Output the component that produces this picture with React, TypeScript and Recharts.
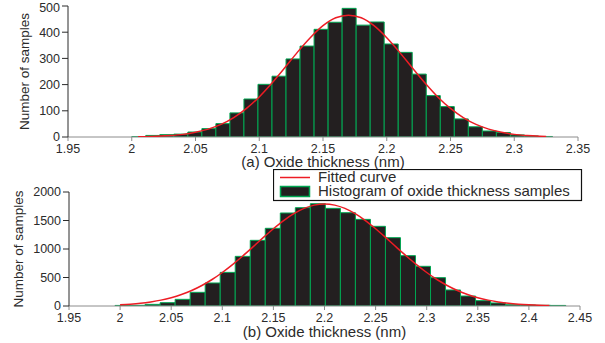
import React from 'react';
import { ComposedChart, LineChart, Bar, Line, XAxis, YAxis } from 'recharts';

// (a) histogram, bin centres (nm) and counts
const TOP_BIN_X = [
  2.0055, 2.0165, 2.0275, 2.0385, 2.0495, 2.0605, 2.0715, 2.0825, 2.0935, 2.1045,
  2.1155, 2.1265, 2.1375, 2.1485, 2.1595, 2.1705, 2.1815, 2.1925, 2.2035, 2.2145,
  2.2255, 2.2365, 2.2475, 2.2585, 2.2695, 2.2805, 2.2915, 2.3025, 2.3135, 2.3245,
];
const TOP_COUNTS = [
  1, 6, 9, 11, 19, 32, 51, 92, 145, 201,
  232, 298, 347, 411, 438, 491, 427, 439, 355, 323,
  240, 158, 116, 69, 39, 23, 17, 8, 4, 2,
];
// (a) fitted curve
const TOP_FIT_X = [
  2.005, 2.01, 2.02, 2.03, 2.04, 2.05, 2.06, 2.07, 2.08, 2.09, 2.1, 2.11, 2.12,
  2.13, 2.14, 2.15, 2.16, 2.17, 2.18, 2.19, 2.2, 2.21, 2.22, 2.23, 2.24, 2.25,
  2.26, 2.27, 2.28, 2.29, 2.3, 2.31, 2.32, 2.325,
];
const TOP_FIT_Y = [
  1, 1.4, 2.9, 5.5, 10, 18, 30, 48, 74, 109, 153, 206, 264,
  324, 379, 425, 455, 465, 455, 425, 379, 324, 264, 206, 153, 109,
  74, 48, 30, 18, 10, 5.5, 2.9, 2.1,
];
const TOP_X_TICKS = [1.95, 2, 2.05, 2.1, 2.15, 2.2, 2.25, 2.3, 2.35];
const TOP_Y_TICKS = [0, 100, 200, 300, 400, 500];

// (b) histogram
const BOT_BIN_X = [
  2.0024, 2.0171, 2.0318, 2.0465, 2.0612, 2.0759, 2.0906, 2.1053, 2.12, 2.1347,
  2.1494, 2.1641, 2.1788, 2.1935, 2.2082, 2.2229, 2.2376, 2.2523, 2.267, 2.2817,
  2.2964, 2.3111, 2.3258, 2.3405, 2.3552, 2.3699, 2.3846, 2.3993, 2.414, 2.4287,
];
const BOT_COUNTS = [
  10, 12, 29, 58, 117, 240, 404, 590, 871, 1152,
  1363, 1632, 1725, 1795, 1713, 1637, 1520, 1398, 1199, 883,
  696, 497, 281, 175, 94, 53, 23, 18, 12, 10,
];
// (b) fitted curve
const BOT_FIT_X = [
  2.0, 2.01, 2.02, 2.03, 2.04, 2.05, 2.06, 2.07, 2.08, 2.09, 2.1, 2.11, 2.12,
  2.13, 2.14, 2.15, 2.16, 2.17, 2.18, 2.19, 2.2, 2.21, 2.22, 2.23, 2.24, 2.25,
  2.26, 2.27, 2.28, 2.29, 2.3, 2.31, 2.32, 2.33, 2.34, 2.35, 2.36, 2.37, 2.38,
  2.39, 2.4, 2.41, 2.42,
];
const BOT_FIT_Y = [
  21, 32, 48, 72, 103, 146, 202, 272, 360, 465, 588, 726, 877,
  1037, 1199, 1355, 1498, 1619, 1712, 1770, 1790, 1770, 1712, 1619, 1498, 1355,
  1199, 1037, 877, 726, 588, 465, 360, 272, 202, 146, 103, 72, 48,
  32, 21, 13, 8,
];
const BOT_X_TICKS = [1.95, 2, 2.05, 2.1, 2.15, 2.2, 2.25, 2.3, 2.35, 2.4, 2.45];
const BOT_Y_TICKS = [0, 500, 1000, 1500, 2000];

const FONT = '"Liberation Sans", Arial, Helvetica, sans-serif';
const BAR_FILL = '#231f20';
const BAR_EDGE = '#00a651';
const CURVE = '#ed1c24';
const TEXT = '#2b2b2b';

interface PanelProps {
  binX: number[];
  counts: number[];
  fitX: number[];
  fitY: number[];
  xTicks: number[];
  yTicks: number[];
  height: number;
  top: number;
  right: number;
  yAxisWidth: number;
  yLabelOffset: number;
  xAxisHeight: number;
  title: string;
  titleOffset: number;
}

// bars + axes in one chart, the fitted curve in an overlaid chart with the same plot box
// (a Line with its own x points would shrink the bar band size otherwise)
const Panel: React.FC<PanelProps> = (p) => {
  const bars = p.binX.map((x, i) => ({ x, count: p.counts[i] }));
  const fit = p.fitX.map((x, i) => ({ x, fit: p.fitY[i] }));
  const xDomain = [p.xTicks[0], p.xTicks[p.xTicks.length - 1]];
  const yDomain = [p.yTicks[0], p.yTicks[p.yTicks.length - 1]];

  return (
    <div style={{ position: 'relative', width: 605, height: p.height }}>
      <div style={{ position: 'absolute', left: 0, top: 0 }}>
        <ComposedChart
          width={605}
          height={p.height}
          data={bars}
          margin={{ top: p.top, right: p.right, left: 0, bottom: 0 }}
          barCategoryGap={0}
          barGap={0}
        >
          <XAxis
            dataKey="x"
            type="number"
            domain={xDomain}
            ticks={p.xTicks}
            allowDataOverflow
            stroke="#8c8c8c"
            tickSize={4}
            tickMargin={3}
            height={p.xAxisHeight}
            tick={{ fill: TEXT, fontSize: 12.5, fontFamily: FONT }}
            label={{ value: p.title, position: 'insideBottom', offset: p.titleOffset, fill: TEXT, fontSize: 15, fontFamily: FONT }}
          />
          <YAxis
            type="number"
            domain={yDomain}
            ticks={p.yTicks}
            allowDataOverflow
            stroke="#2a2a2a"
            tickSize={6}
            tickMargin={2}
            width={p.yAxisWidth}
            tick={{ fill: TEXT, fontSize: 12.5, fontFamily: FONT }}
            label={{
              value: 'Number of samples',
              angle: -90,
              position: 'insideLeft',
              offset: p.yLabelOffset,
              fill: TEXT,
              fontSize: 13.5,
              fontFamily: FONT,
              style: { textAnchor: 'middle' },
            }}
          />
          <Bar dataKey="count" fill={BAR_FILL} stroke={BAR_EDGE} strokeWidth={1} isAnimationActive={false} />
        </ComposedChart>
      </div>
      <div style={{ position: 'absolute', left: 0, top: 0, pointerEvents: 'none' }}>
        <LineChart
          width={605}
          height={p.height}
          data={fit}
          margin={{ top: p.top, right: p.right, left: p.yAxisWidth, bottom: p.xAxisHeight }}
        >
          <XAxis dataKey="x" type="number" domain={xDomain} allowDataOverflow hide />
          <YAxis type="number" domain={yDomain} allowDataOverflow hide />
          <Line
            dataKey="fit"
            type="monotone"
            stroke={CURVE}
            strokeWidth={1.5}
            dot={false}
            activeDot={false}
            isAnimationActive={false}
          />
        </LineChart>
      </div>
    </div>
  );
};

const App: React.FC = () => {
  return (
    <div style={{ position: 'absolute', left: 0, top: 0, width: 605, height: 343, background: '#fff', fontFamily: FONT }}>
      <div style={{ position: 'absolute', left: 0, top: 0 }}>
        <Panel
          binX={TOP_BIN_X}
          counts={TOP_COUNTS}
          fitX={TOP_FIT_X}
          fitY={TOP_FIT_Y}
          xTicks={TOP_X_TICKS}
          yTicks={TOP_Y_TICKS}
          height={170}
          top={6}
          right={27}
          yAxisWidth={68}
          yLabelOffset={24}
          xAxisHeight={33}
          title="(a) Oxide thickness (nm)"
          titleOffset={3}
        />
      </div>
      <div style={{ position: 'absolute', left: 0, top: 170 }}>
        <Panel
          binX={BOT_BIN_X}
          counts={BOT_COUNTS}
          fitX={BOT_FIT_X}
          fitY={BOT_FIT_Y}
          xTicks={BOT_X_TICKS}
          yTicks={BOT_Y_TICKS}
          height={173}
          top={22}
          right={25}
          yAxisWidth={69}
          yLabelOffset={18.5}
          xAxisHeight={37}
          title="(b) Oxide thickness (nm)"
          titleOffset={6}
        />
      </div>
      {/* legend box sits between the two panels */}
      <svg width={310} height={33} style={{ position: 'absolute', left: 273, top: 169 }}>
        <rect x={0.5} y={0.5} width={308} height={31} fill="#fff" stroke="#111" strokeWidth={1.2} />
        <line x1={7} y1={8.5} x2={37} y2={8.5} stroke={CURVE} strokeWidth={1.5} />
        <text x={45} y={13} fontSize={15} fontFamily={FONT} fill={TEXT}>Fitted curve</text>
        <rect x={7.5} y={17.5} width={29} height={10} fill={BAR_FILL} stroke={BAR_EDGE} strokeWidth={1.5} />
        <text x={45} y={27} fontSize={15} fontFamily={FONT} fill={TEXT}>Histogram of oxide thickness samples</text>
      </svg>
    </div>
  );
};

export default App;
